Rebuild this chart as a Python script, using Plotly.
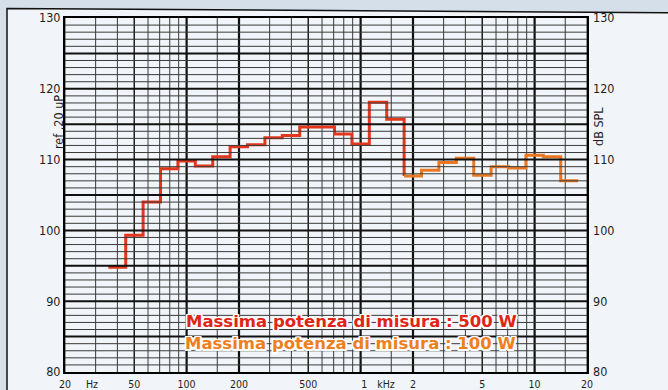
import math
import plotly.graph_objects as go

# 1/3-octave band centre frequencies (Hz) and measured SPL (dB ref. 20 uPa)
bands_500w = [40, 50, 63, 80, 100, 125, 160, 200, 250, 315, 400, 500, 630, 800,
              1000, 1250, 1600]
spl_500w = [94.8, 99.3, 104.0, 108.7, 109.8, 109.1, 110.4, 111.8, 112.1, 113.1,
            113.4, 114.6, 114.6, 113.6, 112.2, 118.1, 115.7]
bands_100w = [2000, 2500, 3150, 4000, 5000, 6300, 8000, 10000, 12500, 16000]
spl_100w = [107.7, 108.5, 109.6, 110.2, 107.8, 109.0, 108.8, 110.6, 110.4, 107.0]

# axis labelling
y_ticks = [80, 90, 100, 110, 120, 130]
x_tickvals = [20, 28.6, 50, 100, 200, 500, 1050, 1400, 2000, 5000, 10000, 20000]
x_ticktext = ["20", "Hz", "50", "100", "200", "500", "1", "kHz", "2", "5", "10", "20"]

label_500w = "Massima potenza di misura : 500 W"
label_100w = "Massima potenza di misura : 100 W"
title_left = "ref .20 uP"
title_right = "dB SPL"

# chart-paper grid lines
grid_freqs = ([20, 30, 40, 50, 60, 70, 80, 90, 100, 150]
              + [200, 300, 400, 500, 600, 700, 800, 900, 1000, 1500]
              + [2000, 3000, 4000, 5000, 6000, 7000, 8000, 9000, 10000, 15000, 20000])
bold_freqs = [100, 200, 1000, 2000, 10000]
mid_freqs = [50, 500, 5000]
Y_MIN, Y_MAX = 80, 130
F_MIN, F_MAX = 20, 20000

RED = "#e2361d"
ORANGE = "#ea7822"
W, H = 668, 390
ML, MR, MT, MB = 65, 81, 18, 18
PW, PH = W - ML - MR, H - MT - MB


def px(x):
    return (x - ML) / PW


def py(y):
    return (H - MB - y) / PH


def band_edges(fc):
    n = round(10 * math.log10(fc / 1000))
    return 1000 * 10 ** ((n - 0.5) / 10), 1000 * 10 ** ((n + 0.5) / 10)


def step_xy(bands, levels, tail_level):
    xs = [band_edges(f)[0] for f in bands] + [band_edges(bands[-1])[1]]
    ys = list(levels) + [tail_level]
    return xs, ys


def vlines(freqs):
    xs, ys = [], []
    for f in freqs:
        xs += [f, f, None]
        ys += [Y_MIN, Y_MAX, None]
    return xs, ys


def hlines(levels):
    xs, ys = [], []
    for v in levels:
        xs += [F_MIN, F_MAX, None]
        ys += [v, v, None]
    return xs, ys


fig = go.Figure()

minor_f = [f for f in grid_freqs if f not in bold_freqs + mid_freqs]
for freqs, width, color in [(minor_f, 1, "#3a3a3a"), (mid_freqs, 1.5, "#1e1e1e"),
                            (bold_freqs, 2.2, "#111111")]:
    gx, gy = vlines(freqs)
    fig.add_trace(go.Scatter(x=gx, y=gy, mode="lines", hoverinfo="skip",
                             line=dict(color=color, width=width), showlegend=False))

minor_db = [v for v in range(Y_MIN + 1, Y_MAX) if v % 5]
major_db = [v for v in range(Y_MIN + 5, Y_MAX, 5)]
for levels, width, color in [(minor_db, 1, "#3a3a3a"), (major_db, 2, "#111111")]:
    gx, gy = hlines(levels)
    fig.add_trace(go.Scatter(x=gx, y=gy, mode="lines", hoverinfo="skip", yaxis="y2",
                             line=dict(color=color, width=width), showlegend=False))

rx, ry = step_xy(bands_500w, spl_500w, spl_100w[0])
fig.add_trace(go.Scatter(x=rx, y=ry, mode="lines", line_shape="hv",
                         line=dict(color=RED, width=3), showlegend=False))
ox, oy = step_xy(bands_100w, spl_100w, spl_100w[-1])
fig.add_trace(go.Scatter(x=ox, y=oy, mode="lines", line_shape="hv",
                         line=dict(color=ORANGE, width=3), showlegend=False))

narrow = "Liberation Sans Narrow, DejaVu Sans Condensed, sans-serif"
tick_font = dict(family=narrow, size=12.5, color="#1f1f1f")
halo = ("1.5px 1.5px 0 #fff, -1.5px -1.5px 0 #fff, 1.5px -1.5px 0 #fff, "
        "-1.5px 1.5px 0 #fff, 0 1.5px 0 #fff, 0 -1.5px 0 #fff, 1.5px 0 0 #fff, "
        "-1.5px 0 0 #fff")

fig.update_layout(
    width=W, height=H,
    margin=dict(l=ML, r=MR, t=MT, b=MB, pad=0, autoexpand=False),
    paper_bgcolor="#d5dfea",
    plot_bgcolor="#f7f9fb",
    xaxis=dict(type="log", range=[math.log10(F_MIN), math.log10(F_MAX)],
               tickvals=x_tickvals, ticktext=x_ticktext, ticks="",
               showgrid=False, zeroline=False, showline=True, mirror=True,
               linecolor="#000", linewidth=2, automargin=False,
               ticklabelstandoff=1,
               tickfont=dict(family=narrow, size=10.5, color="#1f1f1f")),
    yaxis=dict(range=[Y_MIN, Y_MAX], tickvals=y_ticks, ticks="", showgrid=False,
               zeroline=False, showline=True, mirror=True, linecolor="#000",
               linewidth=2, tickfont=tick_font, automargin=False),
    yaxis2=dict(range=[Y_MIN, Y_MAX], tickvals=y_ticks, ticks="", showgrid=False,
                zeroline=False, overlaying="y", side="right", showline=False,
                tickfont=tick_font, automargin=False, ticklabelstandoff=5),
    shapes=[dict(type="path", xref="paper", yref="paper", layer="below",
                 path=(f"M {px(7)},{py(8.5)} L {px(720)},{py(13)} "
                       f"L {px(720)},{py(430)} L {px(7)},{py(430)} Z"),
                 fillcolor="#f1f4f8", line=dict(color="#111", width=1.5))],
    annotations=[
        dict(text=label_500w, x=px(351), y=py(321.5), xref="paper", yref="paper",
             showarrow=False, xanchor="center", yanchor="middle",
             font=dict(family="DejaVu Sans", size=16.5, color="#df2418",
                       weight="bold", shadow=halo)),
        dict(text=label_100w, x=px(350), y=py(343.5), xref="paper", yref="paper",
             showarrow=False, xanchor="center", yanchor="middle",
             font=dict(family="DejaVu Sans", size=16.5, color="#ee7f1e",
                       weight="bold", shadow=halo)),
        dict(text=title_left, x=px(59), y=py(122), xref="paper", yref="paper",
             showarrow=False, textangle=-90, xanchor="center", yanchor="middle",
             font=tick_font),
        dict(text=title_right, x=px(598), y=py(127), xref="paper", yref="paper",
             showarrow=False, textangle=-90, xanchor="center", yanchor="middle",
             font=tick_font),
    ],
)

fig.write_html("out.html")
